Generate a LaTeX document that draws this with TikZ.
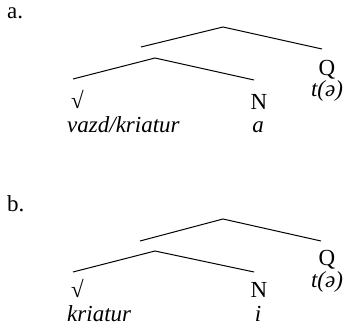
\documentclass[tikz,border=0pt]{standalone}
\usepackage{fontspec}
\setmainfont{Liberation Serif}
\begin{document}
\begin{tikzpicture}[x=1pt,y=-1pt,
  lab/.style={inner sep=0pt, anchor=base, font=\fontsize{23}{27}\selectfont},
  branch/.style={line width=1pt}]
\useasboundingbox (0,0) rectangle (343,331);
% ---------- tree a ----------
\node[lab, anchor=base west] (la) at (7,19) {a.};
\coordinate (aTop) at (223,27);
\coordinate (aTL) at (141,47);
\coordinate (aTR) at (322,49);
\coordinate (aLow) at (155,58);
\coordinate (aLL) at (73,79);
\coordinate (aLR) at (254,80);
\draw[branch] (aTL) -- (aTop) -- (aTR);
\draw[branch] (aLL) -- (aLow) -- (aLR);
\node[lab] (aQ) at (327,75.5) {Q};
\node[lab] (aQt) at (327,97) {\itshape t(ə)};
\node[lab, anchor=base west] (aR) at (71,109) {√};
\node[lab, anchor=base west] (aRw) at (67,133) {\itshape vazd/kriatur};
\node[lab] (aN) at (259,110) {N};
\node[lab] (aNw) at (258,133) {\itshape a};
% ---------- tree b ----------
\node[lab, anchor=base west] (lb) at (7,212) {b.};
\coordinate (bTop) at (223,219);
\coordinate (bTL) at (140,241);
\coordinate (bTR) at (321,241);
\coordinate (bLow) at (155,251);
\coordinate (bLL) at (73,272);
\coordinate (bLR) at (254,272);
\draw[branch] (bTL) -- (bTop) -- (bTR);
\draw[branch] (bLL) -- (bLow) -- (bLR);
\node[lab] (bQ) at (327,266) {Q};
\node[lab] (bQt) at (327,288) {\itshape t(ə)};
\node[lab, anchor=base west] (bR) at (71,298) {√};
\node[lab, anchor=base west] (bRw) at (67,322) {\itshape kriatur};
\node[lab] (bN) at (259,298) {N};
\node[lab] (bNw) at (258,322) {\itshape i};
\end{tikzpicture}
\end{document}
